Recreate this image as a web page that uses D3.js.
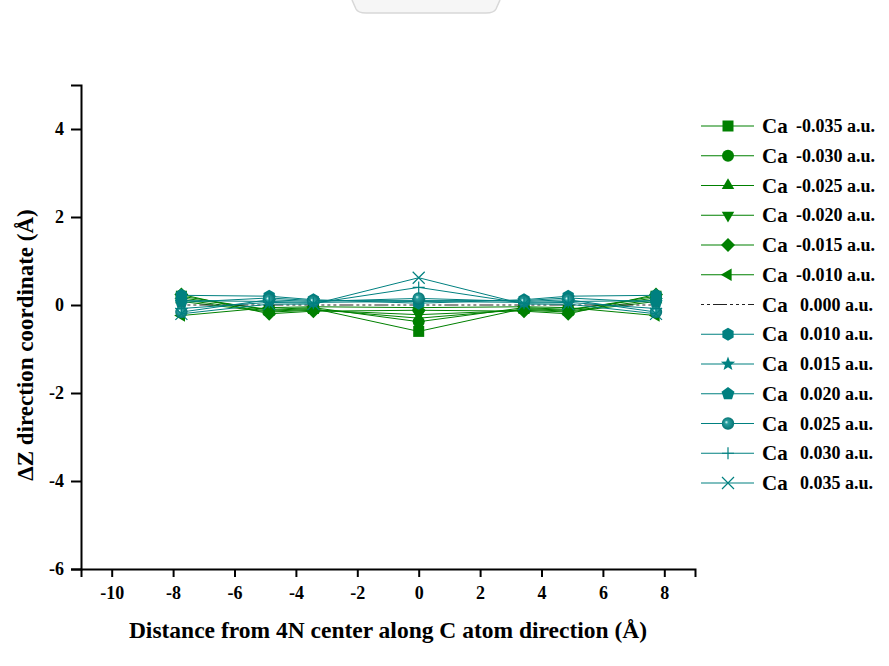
<!DOCTYPE html>
<html>
<head>
<meta charset="utf-8">
<script src="https://cdn.jsdelivr.net/npm/d3@7/dist/d3.min.js"></script>
<style>
  html, body { margin: 0; padding: 0; background: #ffffff; }
  svg { display: block; }
</style>
</head>
<body>
<svg id="chart" width="889" height="666"></svg>
<script>
// Positions along the C atom direction (Å)
const positions = [-7.73, -4.87, -3.43, 0, 3.43, 4.87, 7.73];

// ΔZ displacement (Å) for each applied charge on Ca
const seriesLabels = ["-0.035", "-0.030", "-0.025", "-0.020", "-0.015", "-0.010",
                      "0.000", "0.010", "0.015", "0.020", "0.025", "0.030", "0.035"];
const dzM035 = [0.20, -0.12, -0.08, -0.60, -0.08, -0.12, 0.20];
const dzM030 = [0.16, -0.10, -0.06, -0.38, -0.06, -0.10, 0.16];
const dzM025 = [0.12, -0.14, -0.10, -0.30, -0.10, -0.14, 0.12];
const dzM020 = [0.08, -0.16, -0.12, -0.22, -0.12, -0.16, 0.08];
const dzM015 = [0.24, -0.20, -0.14, -0.12, -0.14, -0.20, 0.24];
const dzM010 = [-0.24, -0.06, -0.04, -0.06, -0.04, -0.06, -0.24];
const dzZero = [0.00, 0.00, 0.00, 0.00, 0.00, 0.00, 0.00];
const dzP010 = [0.22, 0.20, 0.12, 0.04, 0.12, 0.20, 0.22];
const dzP015 = [0.10, 0.08, 0.06, 0.08, 0.06, 0.08, 0.10];
const dzP020 = [0.06, 0.16, 0.10, 0.10, 0.10, 0.16, 0.06];
const dzP025 = [-0.16, 0.12, 0.08, 0.15, 0.08, 0.12, -0.16];
const dzP030 = [-0.08, 0.06, 0.04, 0.40, 0.04, 0.06, -0.08];
const dzP035 = [-0.20, 0.02, 0.02, 0.62, 0.02, 0.02, -0.20];

const seriesValues = [dzM035, dzM030, dzM025, dzM020, dzM015, dzM010, dzZero,
                      dzP010, dzP015, dzP020, dzP025, dzP030, dzP035];
const seriesMarkers = ["square", "circle", "triangleUp", "triangleDown", "diamond", "triangleLeft",
                       "none", "hexagon", "star", "pentagon", "sphere", "plus", "cross"];

const xTicks = [-10, -8, -6, -4, -2, 0, 2, 4, 6, 8];
const yTicks = [-6, -4, -2, 0, 2, 4];

const GREEN = "#008000";
const TEAL = "#008080";
const serif = "'Liberation Serif', 'Times New Roman', serif";

const svg = d3.select("#chart");

// faint tab shape at the top edge
svg.append("path")
  .attr("d", "M352,0 L356,9 Q358,13 366,13 L486,13 Q494,13 496,9 L500,0")
  .attr("fill", "#f6f6f6").attr("stroke", "#d8d8d8").attr("stroke-width", 1.5);

const x = d3.scaleLinear().domain([-11, 9]).range([81, 695]);
const y = d3.scaleLinear().domain([-6, 5]).range([569, 85]);

// gradient for the sphere marker
const defs = svg.append("defs");
const grad = defs.append("radialGradient").attr("id", "sphereGrad")
  .attr("cx", "50%").attr("cy", "50%").attr("r", "55%").attr("fx", "35%").attr("fy", "38%");
grad.append("stop").attr("offset", "0%").attr("stop-color", "#e8ffff");
grad.append("stop").attr("offset", "25%").attr("stop-color", "#2aa0a0");
grad.append("stop").attr("offset", "100%").attr("stop-color", "#006e6e");

function polygon(n, r, rot) {
  const pts = [];
  for (let i = 0; i < n; i++) {
    const a = rot + i * 2 * Math.PI / n;
    pts.push([r * Math.cos(a), r * Math.sin(a)]);
  }
  return "M" + pts.map(p => p[0].toFixed(2) + "," + p[1].toFixed(2)).join("L") + "Z";
}
function starPath(r) {
  const pts = [];
  for (let i = 0; i < 10; i++) {
    const rr = i % 2 === 0 ? r : r * 0.42;
    const a = -Math.PI / 2 + i * Math.PI / 5;
    pts.push([rr * Math.cos(a), rr * Math.sin(a)]);
  }
  return "M" + pts.map(p => p[0].toFixed(2) + "," + p[1].toFixed(2)).join("L") + "Z";
}

// draws one marker of the given kind centred at (cx, cy)
function drawMarker(g, kind, cx, cy, color) {
  const t = `translate(${cx},${cy})`;
  let d = null, stroke = false;
  switch (kind) {
    case "square": d = "M-5.5,-5.5H5.5V5.5H-5.5Z"; break;
    case "circle": g.append("circle").attr("cx", cx).attr("cy", cy).attr("r", 6).attr("fill", color); return;
    case "triangleUp": d = polygon(3, 7.2, -Math.PI / 2); break;
    case "triangleDown": d = polygon(3, 7.2, Math.PI / 2); break;
    case "triangleLeft": d = polygon(3, 7.2, Math.PI); break;
    case "diamond": d = polygon(4, 7, 0); break;
    case "hexagon": d = polygon(6, 6.5, Math.PI / 2); break;
    case "pentagon": d = polygon(5, 6.8, -Math.PI / 2); break;
    case "star": d = starPath(7.5); break;
    case "sphere":
      g.append("circle").attr("cx", cx).attr("cy", cy).attr("r", 6.2).attr("fill", "url(#sphereGrad)");
      return;
    case "plus": d = "M-6,0H6M0,-6V6"; stroke = true; break;
    case "cross": d = "M-6,-6L6,6M-6,6L6,-6"; stroke = true; break;
    default: return;
  }
  const p = g.append("path").attr("d", d).attr("transform", t);
  if (stroke) p.attr("fill", "none").attr("stroke", color).attr("stroke-width", 1.2);
  else p.attr("fill", color);
}

const colorOf = i => seriesLabels[i].startsWith("-") ? GREEN : (seriesLabels[i] === "0.000" ? "#000" : TEAL);

// series lines and markers
const plot = svg.append("g");
const line = d3.line().x((d, i) => x(positions[i])).y(d => y(d));
seriesValues.forEach((vals, i) => {
  const g = plot.append("g");
  const c = colorOf(i);
  const path = g.append("path").datum(vals).attr("d", line)
    .attr("fill", "none").attr("stroke", c).attr("stroke-width", 1);
  if (seriesMarkers[i] === "none") {
    path.attr("stroke-dasharray", "3,3,3,3,3,3,14,3").attr("stroke", "#222");
  }
  vals.forEach((v, j) => drawMarker(g, seriesMarkers[i], x(positions[j]), y(v), c));
});

// axes
const axisFont = g => g.selectAll("text")
  .attr("font-family", serif).attr("font-weight", "bold").attr("font-size", 18).attr("fill", "#000");

const xMinor = d3.range(-11, 10, 1).filter(v => xTicks.indexOf(v) < 0);
const yMinor = d3.range(-5, 6, 1).filter(v => yTicks.indexOf(v) < 0);

const gx = svg.append("g").attr("transform", "translate(0,569)");
gx.call(d3.axisBottom(x).tickValues(xMinor).tickSize(5).tickFormat(""));
gx.call(d3.axisBottom(x).tickValues(xTicks).tickSize(8).tickPadding(9).tickFormat(d3.format("d")));
gx.selectAll(".domain").attr("stroke", "#000").attr("stroke-width", 2);
gx.selectAll(".tick line").attr("stroke", "#000").attr("stroke-width", 2);
gx.call(axisFont);
gx.selectAll("text").text(d => d < 0 ? "-" + Math.abs(d) : d);

const gy = svg.append("g").attr("transform", "translate(81,0)");
gy.call(d3.axisLeft(y).tickValues(yMinor).tickSize(5).tickFormat(""));
gy.call(d3.axisLeft(y).tickValues(yTicks).tickSize(10).tickPadding(7).tickFormat(d3.format("d")));
gy.selectAll(".domain").attr("stroke", "#000").attr("stroke-width", 2);
gy.selectAll(".tick line").attr("stroke", "#000").attr("stroke-width", 2);
gy.call(axisFont);
gy.selectAll("text").text(d => d < 0 ? "-" + Math.abs(d) : d);

// axis titles
svg.append("text")
  .attr("x", 388).attr("y", 638).attr("text-anchor", "middle")
  .attr("font-family", serif).attr("font-weight", "bold").attr("font-size", 23.5)
  .text("Distance from 4N center along C atom direction (Å)");

svg.append("text")
  .attr("transform", "translate(33,345) rotate(-90)").attr("text-anchor", "middle")
  .attr("font-family", serif).attr("font-weight", "bold").attr("font-size", 23)
  .text("ΔZ direction coordinate (Å)");

// legend
const legend = svg.append("g");
seriesLabels.forEach((lab, i) => {
  const ly = 126 + i * 29.75;
  const c = colorOf(i);
  const row = legend.append("g");
  const ln = row.append("line").attr("x1", 701).attr("x2", 754).attr("y1", ly).attr("y2", ly)
    .attr("stroke", c).attr("stroke-width", 1.2);
  if (seriesMarkers[i] === "none") ln.attr("stroke-dasharray", "3,3,3,3,14,3,3,3").attr("stroke", "#222");
  drawMarker(row, seriesMarkers[i], 728, ly, c);
  row.append("text").attr("x", 762).attr("y", ly + 7)
    .attr("font-family", serif).attr("font-weight", "bold").attr("font-size", 21).text("Ca");
  row.append("text").attr("x", lab.startsWith("-") ? 796 : 800).attr("y", ly + 6)
    .attr("font-family", serif).attr("font-weight", "bold").attr("font-size", 18)
    .text(lab + " a.u.");
});
</script>
</body>
</html>
